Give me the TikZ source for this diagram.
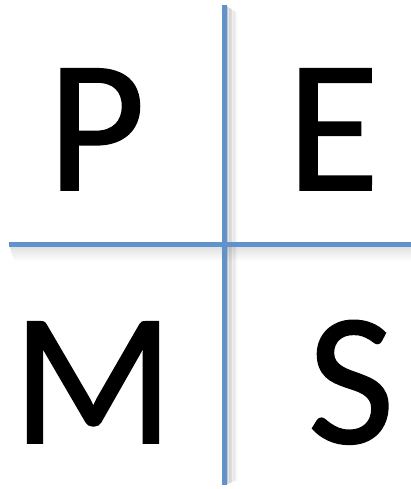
\documentclass[tikz,border=0pt]{standalone}
\usepackage{fontspec}
\setmainfont{Carlito}
\newfontfamily\letterfont{Carlito}[FakeBold=0.9]
\usetikzlibrary{positioning}
\definecolor{crossblue}{RGB}{96,146,204}
\tikzset{
  letter/.style={anchor=base, inner sep=0pt, font=\letterfont\fontsize{189}{189}\selectfont},
  crossline/.style={draw=crossblue, line width=5.5pt},
  shadowline/.style={draw=black, line width=1.5pt}
}
\begin{document}
\begin{tikzpicture}[x=1pt, y=-1pt]
\useasboundingbox (0,0) rectangle (411,489);

\coordinate (vtop) at (224.5,5);
\coordinate (vbot) at (224.5,485);
\coordinate (hleft) at (9,244.5);
\coordinate (hright) at (411,244.5);

% soft shadow
\foreach \d in {1,...,16}
  {
  \pgfmathsetmacro{\op}{0.14-0.008*\d}
  \draw[shadowline, opacity=\op] ([xshift=\d pt*0.8, yshift=-\d pt*0.5]vtop) -- ([xshift=\d pt*0.8, yshift=\d pt*0.3]vbot);
  \draw[shadowline, opacity=\op] ([xshift=\d pt*0.3, yshift=-\d pt]hleft) -- ([yshift=-\d pt]hright);
  }

\draw[crossline] (vtop) -- (vbot);
\draw[crossline] (hleft) -- (hright);

\node[letter] (p) at (96.5,190) {P};
\node[letter] (e) at (333,190) {E};
\node[letter] (m) at (93,443) {M};
\node[letter] (s) at (351,443) {S};
\end{tikzpicture}
\end{document}
